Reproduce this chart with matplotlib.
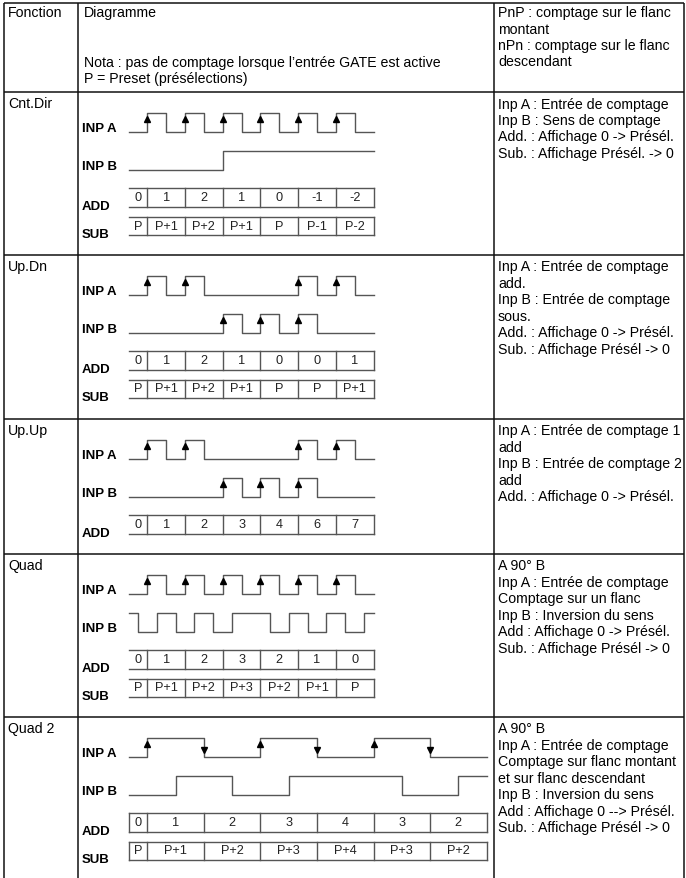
import numpy as np
import matplotlib
matplotlib.use('Agg')
import matplotlib.pyplot as plt

plt.rcParams['font.family'] = ['Liberation Sans', 'DejaVu Sans']

W, H = 686, 879

# ---------------- data ----------------
header_col1 = "Fonction"
header_col2 = ["Diagramme", "Nota : pas de comptage lorsque l\u2019entrée GATE est active",
               "P = Preset (présélections)"]
header_col3 = ["PnP : comptage sur le flanc", "montant", "nPn : comptage sur le flanc", "descendant"]

functions = ["Cnt.Dir", "Up.Dn", "Up.Up", "Quad", "Quad 2"]

desc_cnt = ["Inp A : Entrée de comptage", "Inp B : Sens de comptage",
            "Add. : Affichage 0 -> Présél.", "Sub. : Affichage Présél. -> 0"]
desc_updn = ["Inp A : Entrée de comptage", "add.", "Inp B : Entrée de comptage", "sous.",
             "Add. : Affichage 0 -> Présél.", "Sub. : Affichage Présél -> 0"]
desc_upup = ["Inp A : Entrée de comptage 1", "add", "Inp B : Entrée de comptage 2", "add",
             "Add. : Affichage 0 -> Présél."]
desc_quad = ["A 90° B", "Inp A : Entrée de comptage", "Comptage sur un flanc",
             "Inp B : Inversion du sens", "Add : Affichage 0 -> Présél.",
             "Sub. : Affichage Présél -> 0"]
desc_quad2 = ["A 90° B", "Inp A : Entrée de comptage", "Comptage sur flanc montant",
              "et sur flanc descendant", "Inp B : Inversion du sens",
              "Add : Affichage 0 --> Présél.", "Sub. : Affichage Présél -> 0"]

# signals: transition times (time units), initial level 0 unless stated
cnt_a = [1, 2, 3, 4, 5, 6, 7, 8, 9, 10, 11, 12]
cnt_b = [5]
cnt_up_a = [1, 3, 5, 7, 9, 11]
cnt_up_b = []
cnt_cells = [1, 3, 5, 7, 9, 11, 13]
cnt_add = ["0", "1", "2", "1", "0", "-1", "-2"]
cnt_sub = ["P", "P+1", "P+2", "P+1", "P", "P-1", "P-2"]

updn_a = [1, 2, 3, 4, 9, 10, 11, 12]
updn_b = [5, 6, 7, 8, 9, 10]
updn_up_a = [1, 3, 9, 11]
updn_up_b = [5, 7, 9]
updn_cells = [1, 3, 5, 7, 9, 11, 13]
updn_add = ["0", "1", "2", "1", "0", "0", "1"]
updn_sub = ["P", "P+1", "P+2", "P+1", "P", "P", "P+1"]

upup_a = [1, 2, 3, 4, 9, 10, 11, 12]
upup_b = [5, 6, 7, 8, 9, 10]
upup_up_a = [1, 3, 9, 11]
upup_up_b = [5, 7, 9]
upup_cells = [1, 3, 5, 7, 9, 11, 13]
upup_add = ["0", "1", "2", "3", "4", "6", "7"]

quad_a = [1, 2, 3, 4, 5, 6, 7, 8, 9, 10, 11, 12]
quad_b = [0.5, 1.5, 2.5, 3.5, 4.5, 5.5, 7.5, 8.5, 9.5, 10.5, 11.5, 12.5]  # starts high
quad_up_a = [1, 3, 5, 7, 9, 11]
quad_cells = [1, 3, 5, 7, 9, 11, 13]
quad_add = ["0", "1", "2", "3", "2", "1", "0"]
quad_sub = ["P", "P+1", "P+2", "P+3", "P+2", "P+1", "P"]

quad2_a = [1, 4, 7, 10, 13, 16]
quad2_b = [2.5, 5.5, 8.5, 14.5, 17.5]
quad2_up_a = [1, 7, 13]
quad2_down_a = [4, 10, 16]
quad2_cells = [0, 1, 4, 7, 10, 13, 16, 19]
quad2_add = ["0", "1", "2", "3", "4", "3", "2"]
quad2_sub = ["P", "P+1", "P+2", "P+3", "P+4", "P+3", "P+2"]

rows = [
    dict(name=functions[0], top=93, bot=256, T=13, a=cnt_a, a0=0, b=cnt_b, b0=0,
         upa=cnt_up_a, upb=cnt_up_b, downa=[], cells=cnt_cells, add=cnt_add, sub=cnt_sub,
         leftbar=False, desc=desc_cnt),
    dict(name=functions[1], top=256, bot=420, T=13, a=updn_a, a0=0, b=updn_b, b0=0,
         upa=updn_up_a, upb=updn_up_b, downa=[], cells=updn_cells, add=updn_add, sub=updn_sub,
         leftbar=False, desc=desc_updn),
    dict(name=functions[2], top=420, bot=555, T=13, a=upup_a, a0=0, b=upup_b, b0=0,
         upa=upup_up_a, upb=upup_up_b, downa=[], cells=upup_cells, add=upup_add, sub=None,
         leftbar=False, desc=desc_upup),
    dict(name=functions[3], top=555, bot=718, T=13, a=quad_a, a0=0, b=quad_b, b0=1,
         upa=quad_up_a, upb=[], downa=[], cells=quad_cells, add=quad_add, sub=quad_sub,
         leftbar=False, desc=desc_quad),
    dict(name=functions[4], top=718, bot=879, T=19, a=quad2_a, a0=0, b=quad2_b, b0=0,
         upa=quad2_up_a, upb=[], downa=quad2_down_a, cells=quad2_cells, add=quad2_add,
         sub=quad2_sub, leftbar=True, desc=desc_quad2),
]

# ---------------- layout ----------------
X_L, X_C1, X_C2, X_R = 4, 78, 494, 684
Y_TOP = 4
X0 = 128.5
UNIT = 18.85
FS = 10.2
LINE = 16.5
WAVE = '#555555'
TBL = '#111111'

fig = plt.figure(figsize=(W / 100, H / 100), dpi=100)
ax = fig.add_axes([0, 0, 1, 1])
ax.set_xlim(0, W)
ax.set_ylim(H, 0)
ax.axis('off')

# table lines
lw_t = 1.1
for x in (X_L, X_C1, X_C2, X_R):
    ax.plot([x, x], [Y_TOP, H], color=TBL, lw=lw_t, solid_capstyle='butt')
for y in [Y_TOP] + [r['top'] for r in rows]:
    ax.plot([X_L, X_R], [y, y], color=TBL, lw=lw_t, solid_capstyle='butt')

# header text
ax.text(8, 13, header_col1, fontsize=FS, va='center', ha='left')
ax.text(84, 13, header_col2[0], fontsize=FS, va='center', ha='left')
ax.text(84, 62.5, header_col2[1], fontsize=FS, va='center', ha='left')
ax.text(84, 79, header_col2[2], fontsize=FS, va='center', ha='left')
for i, s in enumerate(header_col3):
    ax.text(498, 13 + i * LINE, s, fontsize=FS, va='center', ha='left')


def step_xy(trans, lvl0, T):
    xs = [0] + list(trans) + [T]
    lv = [lvl0]
    for _ in trans:
        lv.append(1 - lv[-1])
    lv.append(lv[-1])
    return np.array(xs, float), np.array(lv, float)


A_LOW, B_LOW, AMP = 39.5, 77.5, 19
ADD_T, ADD_B = 96, 114.5
SUB_T, SUB_B = 124.5, 142.5

for r in rows:
    top, bot, T = r['top'], r['bot'], r['T']
    h = bot - top
    # function name & description
    ax.text(8, top + 11.5, r['name'], fontsize=FS, va='center', ha='left')
    for i, s in enumerate(r['desc']):
        ax.text(498, top + 11.5 + i * LINE, s, fontsize=FS, va='center', ha='left')
    # signal labels
    ax.text(82, top + A_LOW, "INP A", fontsize=9.5, fontweight='bold', va='baseline')
    ax.text(82, top + B_LOW, "INP B", fontsize=9.5, fontweight='bold', va='baseline')
    ax.text(82, top + 117, "ADD", fontsize=9.5, fontweight='bold', va='baseline')
    if r['sub'] is not None:
        ax.text(82, top + 145, "SUB", fontsize=9.5, fontweight='bold', va='baseline')

    d = fig.add_axes([X0 / W, 1 - bot / H, T * UNIT / W, h / H])
    d.set_xlim(0, T)
    d.set_ylim(h, 0)
    d.axis('off')

    xa, la = step_xy(r['a'], r['a0'], T)
    d.step(xa, A_LOW - la * AMP, where='post', color=WAVE, lw=1.0, clip_on=False)
    xb, lb = step_xy(r['b'], r['b0'], T)
    d.step(xb, B_LOW - lb * AMP, where='post', color=WAVE, lw=1.0, clip_on=False)

    if r['upa']:
        d.plot(r['upa'], [A_LOW - AMP + 6.5] * len(r['upa']), ls='none', marker='^',
               ms=5, color='black', clip_on=False)
    if r['upb']:
        d.plot(r['upb'], [B_LOW - AMP + 6.5] * len(r['upb']), ls='none', marker='^',
               ms=5, color='black', clip_on=False)
    if r['downa']:
        d.plot(r['downa'], [A_LOW - 6.5] * len(r['downa']), ls='none', marker='v',
               ms=5, color='black', clip_on=False)

    boxes = [(ADD_T, ADD_B, r['add'])]
    if r['sub'] is not None:
        boxes.append((SUB_T, SUB_B, r['sub']))
    cells = r['cells']
    edges = cells if r['leftbar'] else [0] + cells
    for (yt, yb, labels) in boxes:
        d.plot([0, T], [yt, yt], color=WAVE, lw=1.0, clip_on=False)
        d.plot([0, T], [yb, yb], color=WAVE, lw=1.0, clip_on=False)
        for c in cells:
            d.plot([c, c], [yt, yb], color=WAVE, lw=1.0, clip_on=False)
        for k, lab in enumerate(labels):
            xc = (edges[k] + edges[k + 1]) / 2
            d.text(xc, (yt + yb) / 2, lab, fontsize=9.2, ha='center', va='center',
                   color='#222222', clip_on=False)

fig.savefig('out.png', dpi=100)
